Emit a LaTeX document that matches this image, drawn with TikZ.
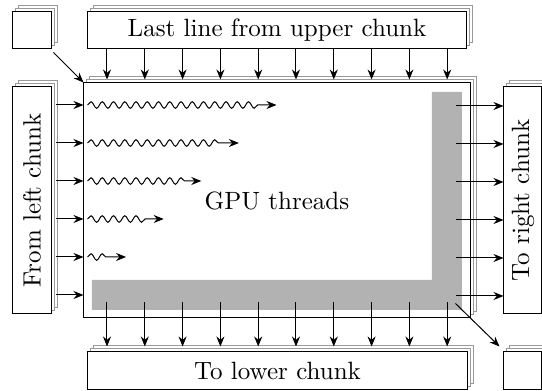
\documentclass[tikz,border=0pt]{standalone}
\usepackage{tikz}
\usetikzlibrary{shadows,decorations.pathmorphing,calc,arrows.meta}

\tikzset{every picture/.style={line width=0.4pt}}
\tikzset{
  chunk/.style={draw, fill=white, inner sep=0pt,
    copy shadow={shadow xshift=2.4pt, shadow yshift=2.4pt, draw=black!40, fill=white},
    copy shadow={shadow xshift=1.2pt, shadow yshift=1.2pt, draw=black!40, fill=white}},
  flow/.style={-{Stealth[length=4pt,width=3.2pt]}},
  thread/.style={flow, decorate, decoration={snake, amplitude=1.3pt, segment length=4.5pt, post length=6pt}}
}

\begin{document}
\begin{tikzpicture}[x=0.4pt,y=0.4pt,yscale=-1,xscale=1]
    \useasboundingbox (0,0) rectangle (542,391);

    % halo chunks
    \node [chunk, minimum width=15.2pt, minimum height=14.8pt] (ul) at (32,30.5) {};
    \node [chunk, minimum width=151.2pt, minimum height=14.8pt] (upper) at (277,30.5) {Last line from upper chunk};
    \node [chunk, minimum width=15.2pt, minimum height=90.8pt] (left) at (32,200.5) {\rotatebox{90}{From left chunk}};
    \node [chunk, minimum width=15.2pt, minimum height=90.8pt] (right) at (523,200.5) {\rotatebox{90}{To right chunk}};
    \node [chunk, minimum width=151.6pt, minimum height=15.2pt] (lower) at (277.5,371) {To lower chunk};
    \node [chunk, minimum width=15.2pt, minimum height=15.2pt] (lr) at (523,371) {};

    % current chunk
    \node [chunk, minimum width=154.4pt, minimum height=94pt] (main) at (277,200.5) {};
    \fill [black!30] (92,280) -- (432,280) -- (432,92) -- (462,92) -- (462,310) -- (92,310) -- cycle;
    \node (gpu) at (277,201) {GPU threads};

    % rows from the left, columns from above
    \foreach \i in {0,...,9} {
      \coordinate (cx) at ({107+37.8*\i},0);
      \draw [flow] (upper.south -| cx) -- ($(main.north -| cx)+(0,-3)$);
      \draw [flow] ($(main.south -| cx)+(0,-16)$) -- ($(lower.north -| cx)+(0,-5)$);
    }
    \foreach \i in {0,...,5} {
      \coordinate (cy) at (0,{105+38*\i});
      \draw [flow] ($(left.east |- cy)+(4,0)$) -- (main.west |- cy);
      \draw [flow] ($(main.east |- cy)+(-15,1)$) -- ($(right.west |- cy)+(0,1)$);
    }
    % threads
    \foreach \i in {0,...,4} {
      \coordinate (cy) at (0,{105+38*\i});
      \draw [thread] ($(main.west |- cy)+(4,0)$) -- ($(main.west |- cy)+({193-37.6*\i},0)$);
    }

    % corners
    \draw [flow] ($(ul.south east)+(2,3)$) -- (main.north west);
    \draw [flow] ($(main.south east)+(-15,-15)$) -- ($(lr.north west)+(-4,-5)$);
\end{tikzpicture}
\end{document}
